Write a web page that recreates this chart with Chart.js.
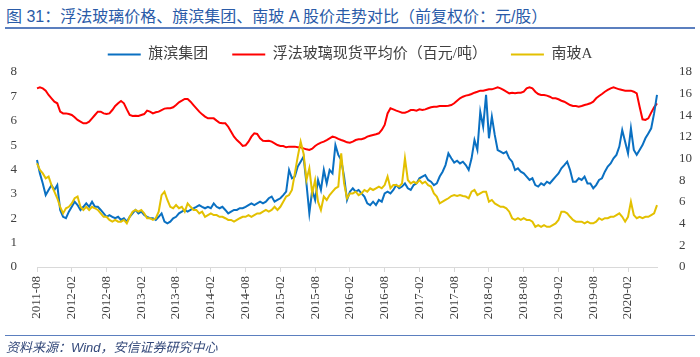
<!DOCTYPE html>
<html><head><meta charset="utf-8">
<script src="https://cdn.jsdelivr.net/npm/chart.js@4.4.0/dist/chart.umd.min.js"></script>
<style>
html,body{margin:0;padding:0;background:#fff;}
#wrap{position:relative;width:700px;height:357px;overflow:hidden;background:#fff;}
#title{position:absolute;left:6px;top:3px;font:16px 'Liberation Sans','Noto Sans CJK SC',sans-serif;color:#2a5ba8;white-space:nowrap;}
#tline{position:absolute;left:5px;right:5px;top:27px;height:2px;background:#5b7fbf;}
#bline{position:absolute;left:5px;right:5px;top:335px;height:1px;background:#5b7fbf;}
#foot{position:absolute;left:6px;top:337px;font:italic 13px 'Liberation Sans','Noto Sans CJK SC',sans-serif;color:#34497a;white-space:nowrap;}
canvas{position:absolute;left:0;top:0;}
</style></head>
<body><div id="wrap">
<div id="title">图 31：浮法玻璃价格、旗滨集团、南玻 A 股价走势对比（前复权价：元/股）</div>
<div id="tline"></div>
<canvas id="c" width="700" height="357"></canvas>
<div id="bline"></div>
<div id="foot">资料来源：Wind，安信证券研究中心</div>
</div>
<script>
// semi-monthly observation dates, 2011-08-01 .. 2020-07-01
const startYear = 2011, startMonth = 8, pointCount = 215;
const categories = [];
for (let i = 0; i < pointCount; i++) {
  const mi = startMonth - 1 + Math.floor(i / 2);
  const y = startYear + Math.floor(mi / 12);
  const m = (mi % 12) + 1;
  categories.push(y + '-' + String(m).padStart(2, '0') + (i % 2 ? '-16' : '-01'));
}
const tickLabels = ['2011-08','2012-02','2012-08','2013-02','2013-08','2014-02','2014-08','2015-02','2015-08','2016-02','2016-08','2017-02','2017-08','2018-02','2018-08','2019-02','2019-08','2020-02'];

const qibin = [
4.39,3.84,3.43,2.95,3.16,3.36,3.16,3.36,2.34,2.06,
2.00,2.27,2.47,2.68,2.54,2.34,2.47,2.61,2.47,2.68,
2.47,2.47,2.34,2.20,2.06,2.13,2.06,2.00,2.06,1.93,
2.00,1.86,2.06,2.20,2.34,2.20,2.27,2.13,2.06,2.00,
2.00,1.93,2.06,2.20,1.86,1.79,1.86,2.00,2.06,2.20,
2.27,2.34,2.27,2.34,2.41,2.47,2.54,2.47,2.41,2.47,
2.41,2.61,2.47,2.41,2.47,2.34,2.20,2.27,2.34,2.34,
2.41,2.41,2.47,2.54,2.61,2.54,2.61,2.68,2.61,2.68,
2.82,2.89,2.68,2.75,2.82,2.95,3.09,3.98,3.64,3.71,
4.12,4.32,4.53,3.43,2.20,3.16,2.75,3.57,3.16,3.98,
3.43,3.98,3.84,5.00,4.60,4.39,3.71,2.75,3.09,3.23,
3.09,3.16,3.02,2.89,2.61,2.54,2.68,2.54,2.75,2.68,
3.02,3.09,3.02,3.16,3.36,3.23,3.30,3.43,3.23,3.16,
3.36,3.43,3.64,3.71,3.77,3.57,3.50,3.36,3.43,3.71,
3.91,4.18,4.66,4.46,4.28,4.36,4.25,4.32,4.18,3.98,
4.46,5.21,4.80,6.37,5.76,7.06,5.28,6.17,5.42,4.80,
4.73,4.66,4.73,4.46,4.32,3.98,4.05,3.91,3.84,3.71,
3.57,3.64,3.36,3.30,3.43,3.36,3.50,3.43,3.57,3.71,
3.84,4.05,4.18,4.32,3.98,3.50,3.50,3.64,3.57,3.71,
3.43,3.43,3.23,3.36,3.57,3.64,3.91,4.12,4.25,4.46,
4.60,4.94,5.62,5.14,4.66,5.69,4.80,4.60,4.80,5.00,
5.28,5.48,5.69,6.30,7.06];

const glassPrice = [
16.49,16.58,16.49,16.28,15.88,15.57,15.26,15.11,14.34,14.18,
14.18,14.12,14.03,13.82,13.57,13.42,13.26,13.26,13.42,13.72,
14.03,14.34,14.34,14.18,14.12,14.18,14.49,14.86,15.11,15.32,
15.11,14.55,14.03,13.94,13.97,13.94,14.03,14.12,14.43,14.34,
14.18,14.28,14.34,14.49,14.62,14.65,14.65,14.74,14.95,15.20,
15.35,15.51,15.51,15.26,14.95,14.65,14.34,14.09,13.88,13.72,
13.72,13.72,13.51,13.32,13.26,13.26,12.95,12.49,12.03,11.72,
11.48,11.17,11.23,11.57,12.03,12.34,12.28,11.88,11.66,11.63,
11.66,11.57,11.42,11.26,11.17,11.17,11.05,11.11,11.11,11.11,
11.05,11.05,10.95,10.86,10.80,10.92,11.17,11.35,11.48,11.57,
11.72,11.88,12.03,11.97,11.82,11.72,11.63,11.51,11.48,11.57,
11.72,11.79,11.79,11.88,12.03,12.12,12.19,12.25,12.34,12.65,
13.11,14.18,14.65,14.55,14.43,14.34,14.25,14.25,14.34,14.49,
14.49,14.43,14.55,14.49,14.55,14.65,14.74,14.80,14.80,14.86,
14.86,14.86,14.89,14.95,15.11,15.35,15.57,15.72,15.82,15.88,
15.97,16.09,16.18,16.28,16.28,16.34,16.40,16.40,16.49,16.58,
16.49,16.34,16.18,16.03,16.09,16.03,16.09,16.09,16.18,16.49,
16.58,16.49,16.18,15.97,15.88,15.88,15.82,15.72,15.57,15.57,
15.48,15.35,15.26,15.11,14.95,14.86,14.86,14.80,14.86,14.95,
15.02,15.11,15.26,15.57,15.78,15.97,16.18,16.34,16.49,16.58,
16.49,16.40,16.34,16.28,16.28,16.28,16.18,16.03,14.80,13.63,
13.57,13.72,14.25,14.74,15.11];

const nanboA = [
4.25,3.98,3.84,3.64,3.71,3.36,3.09,2.82,2.47,2.20,
2.41,2.47,2.61,2.82,2.89,2.47,2.34,2.47,2.34,2.47,
2.41,2.34,2.20,2.06,2.06,1.93,1.86,1.93,1.86,1.86,
1.93,1.79,2.06,2.27,2.34,2.27,2.34,2.20,2.00,2.00,
1.93,2.00,2.27,2.95,3.09,2.75,2.47,2.41,2.54,2.41,
2.47,2.27,2.61,2.47,2.34,2.34,2.20,2.27,2.06,2.13,
2.20,2.13,2.13,2.06,2.06,2.00,1.93,1.93,1.86,1.93,
2.00,2.06,2.06,2.13,2.06,2.13,2.20,2.20,2.27,2.34,
2.27,2.34,2.47,2.34,2.47,2.68,2.89,2.95,3.16,3.84,
4.53,5.14,4.66,3.57,4.05,3.02,3.57,2.68,2.34,2.89,
2.75,2.95,3.09,3.23,3.30,4.66,3.43,2.82,3.02,3.02,
3.09,2.95,3.02,3.16,3.09,3.23,3.16,3.23,3.30,3.23,
3.36,3.71,3.23,3.36,3.36,3.30,3.43,4.46,3.57,3.43,
3.50,3.43,3.57,3.43,3.50,3.36,3.30,3.02,2.89,2.61,
2.68,2.75,2.82,2.91,2.95,2.91,2.95,2.91,2.89,2.82,
3.09,3.16,2.95,3.02,3.09,3.09,2.68,2.75,2.61,2.54,
2.47,2.47,2.41,2.27,2.00,1.93,2.00,1.93,2.00,1.93,
1.93,1.86,1.65,1.72,1.65,1.72,1.65,1.65,1.72,1.79,
1.93,2.27,2.27,2.20,2.06,1.93,1.86,1.86,1.86,1.79,
1.86,1.79,1.79,1.86,2.00,1.93,2.00,2.00,2.06,2.06,
2.13,2.20,2.06,1.86,2.06,2.68,2.13,2.00,2.06,2.00,
2.06,2.06,2.13,2.20,2.54];

const seriesNames = ['旗滨集团', '浮法玻璃现货平均价（百元/吨）', '南玻A'];
const colors = ['#0a70c2', '#ff0000', '#e3c000'];

const tickFont = {family: "'Liberation Serif', 'Times New Roman', serif", size: 13};

new Chart(document.getElementById('c'), {
  type: 'line',
  data: {
    labels: categories,
    datasets: [
      {label: seriesNames[0], data: qibin, yAxisID: 'y', borderColor: colors[0], backgroundColor: colors[0], order: 1},
      {label: seriesNames[1], data: glassPrice, yAxisID: 'y1', borderColor: colors[1], backgroundColor: colors[1], order: 2},
      {label: seriesNames[2], data: nanboA, yAxisID: 'y', borderColor: colors[2], backgroundColor: colors[2], order: 0}
    ]
  },
  options: {
    responsive: false,
    animation: false,
    devicePixelRatio: 1,
    layout: {padding: {top: 23, left: 0, right: 0, bottom: 0}},
    elements: {
      line: {borderWidth: 2, tension: 0},
      point: {radius: 0, hoverRadius: 0}
    },
    plugins: {
      tooltip: {enabled: false},
      legend: {
        position: 'top',
        labels: {
          boxWidth: 33,
          boxHeight: 2,
          padding: 24,
          color: '#404040',
          font: {family: "'Liberation Serif', 'Noto Sans CJK SC', serif", size: 15},
          sort: (a, b) => a.datasetIndex - b.datasetIndex,
          generateLabels: (chart) => {
            const items = Chart.defaults.plugins.legend.labels.generateLabels(chart);
            items.forEach(it => { it.lineWidth = 0; it.fillStyle = it.strokeStyle; });
            return items;
          }
        }
      }
    },
    scales: {
      x: {
        type: 'category',
        offset: false,
        border: {display: true, color: '#d9d9d9', width: 1},
        grid: {
          display: true,
          drawOnChartArea: false,
          drawTicks: true,
          tickLength: 5,
          color: (ctx) => {
            const lab = categories[ctx.index];
            return (lab && lab.endsWith('-01') && tickLabels.includes(lab.slice(0, 7))) ? '#d9d9d9' : 'rgba(0,0,0,0)';
          }
        },
        ticks: {
          autoSkip: false,
          maxRotation: 90,
          minRotation: 90,
          padding: 4,
          color: '#404040',
          font: tickFont,
          callback: function (value) {
            const lab = this.getLabelForValue(value);
            if (lab.endsWith('-01') && tickLabels.includes(lab.slice(0, 7))) return lab.slice(0, 7);
            return '';
          }
        },
        afterFit: (s) => { s.height = 90; }
      },
      y: {
        position: 'left',
        min: 0, max: 8,
        border: {display: false},
        grid: {display: false},
        ticks: {stepSize: 1, padding: 12, color: '#404040', font: tickFont},
        afterFit: (s) => { s.width = 37; }
      },
      y1: {
        position: 'right',
        min: 0, max: 18,
        border: {display: false},
        grid: {display: false},
        ticks: {stepSize: 2, padding: 14, color: '#404040', font: tickFont},
        afterFit: (s) => { s.width = 43; }
      }
    }
  }
});
</script>
</body></html>
